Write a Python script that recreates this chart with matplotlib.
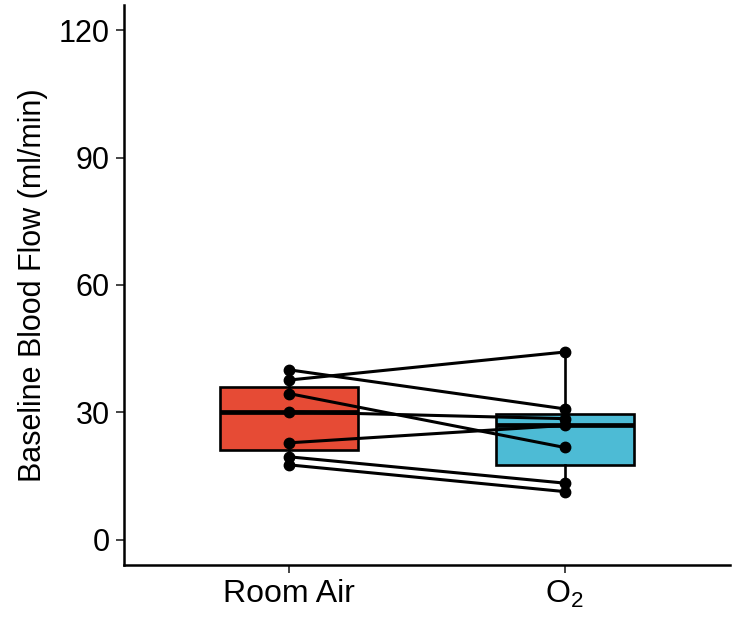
import matplotlib
matplotlib.use("Agg")
import matplotlib.pyplot as plt
import numpy as np

plt.rcParams['font.family'] = ['Liberation Sans', 'DejaVu Sans']
plt.rcParams['mathtext.fontset'] = 'custom'
plt.rcParams['mathtext.rm'] = 'Liberation Sans'
plt.rcParams['mathtext.it'] = 'Liberation Sans:italic'

# Paired baseline flow per subject (ml/min)
conditions = ["Room Air", r"$\mathregular{O_2}$"]
room_air = [40.0, 37.6, 34.4, 30.1, 22.8, 19.5, 17.6]
oxygen = [30.8, 44.2, 21.7, 28.5, 26.9, 13.3, 11.3]
box_colors = ["#E64B35", "#4DBBD5"]
y_ticks = [0, 30, 60, 90, 120]

fig = plt.figure(figsize=(7.33, 6.17), dpi=100)
ax = fig.add_axes([124 / 733, 52 / 617, 606 / 733, 560 / 617])

positions = [1, 2]
bp = ax.boxplot([room_air, oxygen], positions=positions, widths=0.5,
                patch_artist=True, showfliers=False, whis=1.5,
                medianprops=dict(color="black", linewidth=3.4),
                boxprops=dict(linewidth=1.9, edgecolor="black"),
                whiskerprops=dict(linewidth=1.9, color="black"),
                capprops=dict(linewidth=0), zorder=1)
for patch, c in zip(bp['boxes'], box_colors):
    patch.set_facecolor(c)

# subject lines connecting conditions
for a, b in zip(room_air, oxygen):
    ax.plot(positions, [a, b], color="black", linewidth=2.2, zorder=3,
            marker="o", markersize=7.5, markerfacecolor="black",
            markeredgecolor="black")

ax.set_xlim(0.4, 2.6)
ax.set_ylim(-6, 126)
ax.set_xticks(positions)
ax.set_xticklabels(conditions)
ax.set_yticks(y_ticks)
ax.set_ylabel("Baseline Blood Flow (ml/min)", fontsize=22, labelpad=8)

for s in ["top", "right"]:
    ax.spines[s].set_visible(False)
for s in ["left", "bottom"]:
    ax.spines[s].set_linewidth(1.8)
ax.tick_params(axis="y", which="major", labelsize=22, length=6,
               width=1.4, color="#444444", labelcolor="black", pad=4)
ax.tick_params(axis="x", which="major", labelsize=23, length=6,
               width=1.4, color="#444444", labelcolor="black", pad=4)

fig.savefig("out.png", dpi=100)
